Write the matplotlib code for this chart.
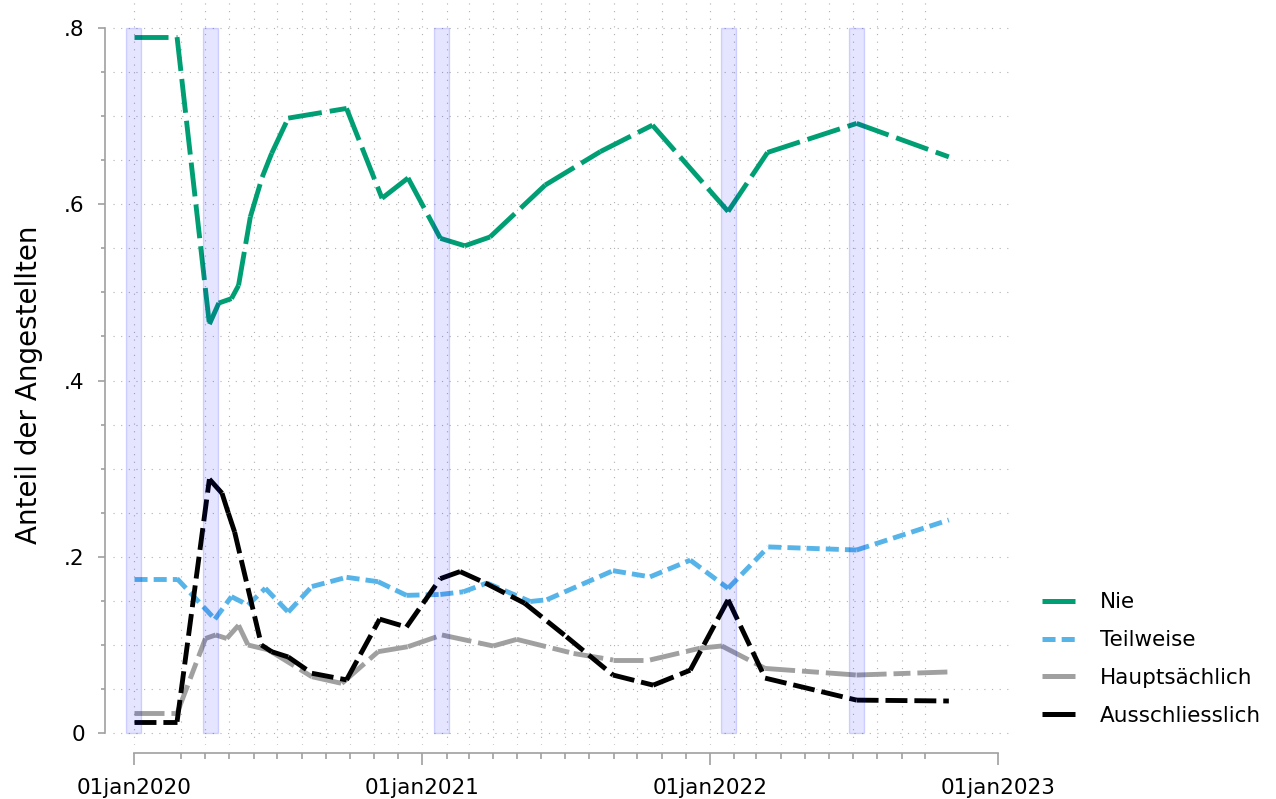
import pandas as pd
import numpy as np
import matplotlib
matplotlib.use('Agg')
import matplotlib.pyplot as plt
import matplotlib.dates as mdates
from matplotlib.lines import Line2D

plt.rcParams['font.family'] = 'DejaVu Sans'
plt.rcParams['lines.scale_dashes'] = False

# data
nie_dates = ['2020-01-01', '2020-02-25', '2020-04-06', '2020-04-18', '2020-05-04', '2020-05-13',
             '2020-05-28', '2020-06-12', '2020-06-24', '2020-07-15', '2020-09-27', '2020-11-11',
             '2020-12-14', '2021-01-24', '2021-02-24', '2021-03-28', '2021-06-06', '2021-08-15',
             '2021-10-20', '2022-01-24', '2022-03-15', '2022-07-06', '2022-10-31']
nie = [0.790, 0.790, 0.464, 0.488, 0.493, 0.508, 0.586, 0.631, 0.658, 0.698, 0.709, 0.607,
       0.630, 0.5615, 0.553, 0.563, 0.622, 0.660, 0.690, 0.592, 0.659, 0.692, 0.654]

teil_dates = ['2020-01-01', '2020-02-25', '2020-04-13', '2020-05-04', '2020-05-25', '2020-06-16',
              '2020-07-15', '2020-08-14', '2020-09-27', '2020-11-06', '2020-12-12', '2021-01-24',
              '2021-02-22', '2021-03-24', '2021-05-18', '2021-06-08', '2021-08-31', '2021-10-17',
              '2021-12-07', '2022-01-24', '2022-03-16', '2022-07-06', '2022-10-31']
teil = [0.175, 0.175, 0.129, 0.1545, 0.145, 0.164, 0.137, 0.166, 0.1765, 0.1715, 0.156, 0.157,
        0.160, 0.170, 0.149, 0.151, 0.184, 0.177, 0.196, 0.164, 0.211, 0.2075, 0.2416]

haupt_dates = ['2020-01-01', '2020-02-25', '2020-04-01', '2020-04-14', '2020-04-28', '2020-05-13',
               '2020-05-25', '2020-06-20', '2020-08-14', '2020-09-21', '2020-11-06', '2020-12-14',
               '2021-01-26', '2021-04-01', '2021-05-01', '2021-07-12', '2021-08-31', '2021-10-17',
               '2021-12-19', '2022-01-16', '2022-03-12', '2022-07-06', '2022-10-31']
haupt = [0.022, 0.022, 0.107, 0.111, 0.107, 0.122, 0.0996, 0.094, 0.0636, 0.056, 0.092, 0.0977,
         0.111, 0.0985, 0.106, 0.090, 0.0826, 0.0826, 0.0959, 0.0985, 0.073, 0.0655, 0.069]

aus_dates = ['2020-01-01', '2020-02-25', '2020-04-06', '2020-04-22', '2020-04-30', '2020-05-08',
             '2020-06-11', '2020-06-24', '2020-07-15', '2020-08-14', '2020-09-27', '2020-11-08',
             '2020-12-12', '2021-01-24', '2021-02-18', '2021-03-22', '2021-05-11', '2021-07-03',
             '2021-08-31', '2021-10-21', '2021-12-07', '2022-01-24', '2022-03-12', '2022-07-06',
             '2022-10-31']
aus = [0.0125, 0.0125, 0.288, 0.272, 0.2495, 0.228, 0.0996, 0.092, 0.086, 0.0675, 0.060, 0.129,
       0.120, 0.175, 0.183, 0.170, 0.147, 0.109, 0.0655, 0.054, 0.071, 0.151, 0.062, 0.037, 0.036]

band_dates = ['2020-01-01', '2020-04-07', '2021-01-26', '2022-01-25', '2022-07-06']
band_height = 0.8

labels = ['Nie', 'Teilweise', 'Hauptsächlich', 'Ausschliesslich']
year_ticks = ['2020-01-01', '2021-01-01', '2022-01-01', '2023-01-01']
year_labels = ['01jan2020', '01jan2021', '01jan2022', '01jan2023']
y_ticks = [0, 0.2, 0.4, 0.6, 0.8]
y_labels = ['0', '.2', '.4', '.6', '.8']

# styles
colors = ['#009E73', '#56B4E9', '#A0A0A0', '#000000']
dashes = [(24.5, 5.8), (9.4, 4.4), (21.6, 5.0, 12.2, 5.0), (15.8, 5.0)]
axis_col = '#A0A0A0'
grid_col = '#B0B0B0'

fig = plt.figure(figsize=(12.76, 7.99), dpi=100)
ax = fig.add_axes([113 / 1276, 54 / 799, 900 / 1276, 743 / 799])

t0 = mdates.date2num(pd.Timestamp('2020-01-01'))
ax.set_xlim(t0 - 26.26, t0 + 1115.4)
ax.set_ylim(-0.01397, 0.8299)

# grid
month_ticks = [d for d in pd.date_range('2020-03-01', '2022-10-01', freq='MS') if d.month != 1]
for d in [pd.Timestamp(t) for t in year_ticks[:3]] + month_ticks:
    ax.axvline(d, color=grid_col, lw=0.8, linestyle=(0, (0.8, 4.7)), zorder=0)
for v in np.arange(0, 17) * 0.05:
    ax.axhline(v, color=grid_col, lw=0.8, linestyle=(0, (0.8, 4.7)), zorder=0)

# series, drawn segment by segment so the dash pattern restarts at each point
series = [(nie_dates, nie), (teil_dates, teil), (haupt_dates, haupt), (aus_dates, aus)]
for (dts, vals), c, ds in zip(series, colors, dashes):
    dts = pd.to_datetime(dts)
    for i in range(len(dts) - 1):
        ax.plot(dts[i:i + 2], vals[i:i + 2], color=c, lw=3.5, linestyle=(0, ds),
                dash_capstyle='butt', solid_capstyle='butt', zorder=2)

# shaded periods
ax.bar(pd.to_datetime(band_dates), band_height, width=19, bottom=0,
       color=(0, 0, 1, 0.1), edgecolor=(0, 0, 1, 0.15), lw=1, zorder=3)

# axes
for s in ['top', 'right']:
    ax.spines[s].set_visible(False)
ax.spines['left'].set_position(('outward', 6.1))
ax.spines['bottom'].set_position(('outward', 5.5))
ax.spines['left'].set_bounds(0, 0.8)
ax.spines['bottom'].set_bounds(mdates.date2num(pd.Timestamp(year_ticks[0])),
                               mdates.date2num(pd.Timestamp(year_ticks[-1])))
for s in ['left', 'bottom']:
    ax.spines[s].set_color(axis_col)
    ax.spines[s].set_linewidth(1.2)

ax.set_xticks(pd.to_datetime(year_ticks))
ax.set_xticklabels(year_labels)
ax.set_xticks(month_ticks, minor=True)
ax.set_yticks(y_ticks)
ax.set_yticklabels(y_labels)
ax.set_yticks([v for v in np.arange(1, 16) * 0.05 if round(v / 0.05) % 4 != 0], minor=True)

ax.tick_params(axis='x', which='major', length=8.9, width=1.2, color=axis_col,
               labelsize=15.5, pad=9)
ax.tick_params(axis='x', which='minor', length=4.1, width=1.2, color=axis_col)
ax.tick_params(axis='y', which='major', length=4.8, width=1.2, color=axis_col,
               labelsize=15.5, pad=9.4)
ax.tick_params(axis='y', which='minor', length=2.9, width=1.2, color=axis_col)

ax.set_ylabel('Anteil der Angestellten', fontsize=20)
ax.yaxis.set_label_coords(-0.0774, 0.4845)

# legend
handles = [Line2D([], [], color=c, lw=3.6, solid_capstyle='butt', dash_capstyle='butt',
                  linestyle='-' if i != 1 else (0, dashes[1]))
           for i, c in enumerate(colors)]
fig.legend(handles, labels, loc='center left', bbox_to_anchor=(1042 / 1276, 1 - 659 / 799),
           frameon=False, fontsize=15.5, borderpad=0, borderaxespad=0,
           handlelength=1.53, handletextpad=1.16, labelspacing=0.83)

fig.savefig('out.png', dpi=100)
